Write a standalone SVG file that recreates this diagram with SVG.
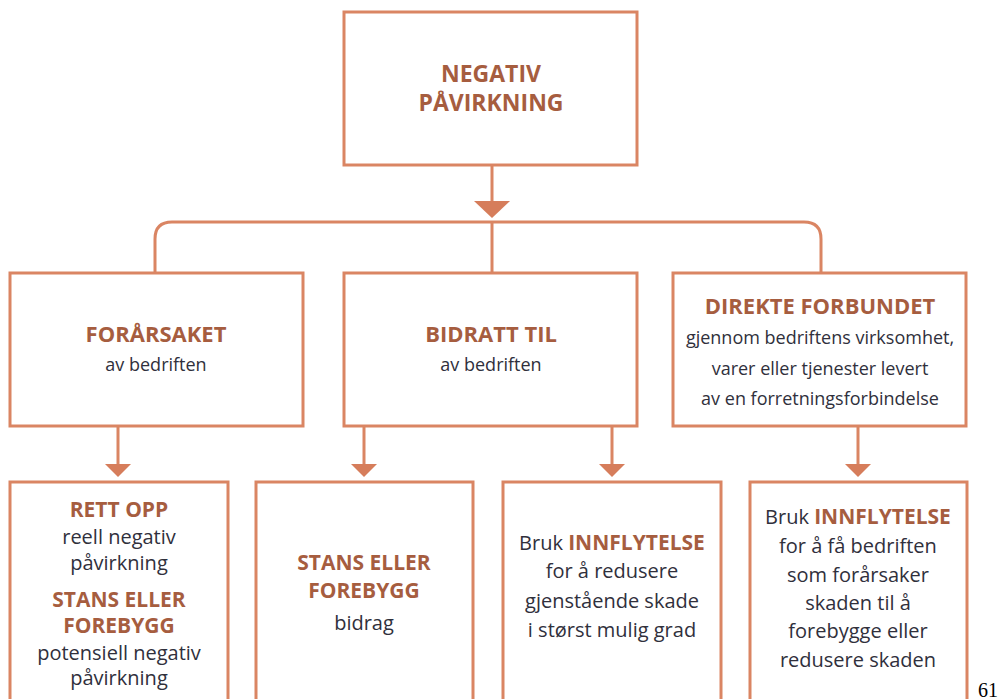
<svg xmlns="http://www.w3.org/2000/svg" width="1002" height="699" viewBox="0 0 1002 699">
<style>
.box{fill:#fff;stroke:#da8563;stroke-width:3}
.ln{fill:none;stroke:#da8563;stroke-width:3}
.ah{fill:#d67d5b}
text{font-family:"Open Sans","Noto Sans",sans-serif;text-anchor:middle}
.b{font-weight:bold;fill:#a65d3f}
.r{fill:#30303c}
.t{font-size:23px}
.m{font-size:22px}
.s{font-size:21px}
.rm{font-size:18px}
.rs{font-size:20px}
.bs{font-size:21px}
</style>
<rect width="1002" height="699" fill="#fff"/>
<g id="connectors">
<line class="ln" x1="492" y1="165" x2="492" y2="203"/>
<polygon class="ah" points="474,201 510,201 492,218"/>
<path class="ln" d="M155,273 V239 Q155,222 172,222 H804 Q821,222 821,239 V273"/>
<line class="ln" x1="492" y1="222" x2="492" y2="273"/>
<line class="ln" x1="118" y1="426" x2="118" y2="466"/>
<polygon class="ah" points="105,464 131,464 118,477"/>
<line class="ln" x1="364" y1="426" x2="364" y2="466"/>
<polygon class="ah" points="351,464 377,464 364,477"/>
<line class="ln" x1="612" y1="426" x2="612" y2="466"/>
<polygon class="ah" points="599,464 625,464 612,477"/>
<line class="ln" x1="858" y1="426" x2="858" y2="466"/>
<polygon class="ah" points="845,464 871,464 858,477"/>
</g>
<g id="negativ">
<rect class="box" x="344" y="12" width="293" height="153"/>
<text class="b t" x="491" y="82">NEGATIV</text>
<text class="b t" x="491" y="111">PÅVIRKNING</text>
</g>
<g id="forarsaket">
<rect class="box" x="10" y="273" width="293" height="153"/>
<text class="b m" x="156" y="342">FORÅRSAKET</text>
<text class="r rm" x="156" y="371">av bedriften</text>
</g>
<g id="bidratt">
<rect class="box" x="344" y="273" width="293" height="153"/>
<text class="b m" x="491" y="342">BIDRATT TIL</text>
<text class="r rm" x="491" y="371">av bedriften</text>
</g>
<g id="direkte">
<rect class="box" x="673" y="273" width="293" height="153"/>
<text class="b m" x="820" y="314">DIREKTE FORBUNDET</text>
<text class="r rm" x="820" y="344">gjennom bedriftens virksomhet,</text>
<text class="r rm" x="820" y="375">varer eller tjenester levert</text>
<text class="r rm" x="820" y="405">av en forretningsforbindelse</text>
</g>
<g id="rett-opp">
<rect class="box" x="10" y="482" width="218" height="230"/>
<text class="b s" x="119" y="517">RETT OPP</text>
<text class="r rs" x="119" y="544">reell negativ</text>
<text class="r rs" x="119" y="570">påvirkning</text>
<text class="b s" x="119" y="607">STANS ELLER</text>
<text class="b s" x="119" y="633">FOREBYGG</text>
<text class="r rs" x="119" y="660">potensiell negativ</text>
<text class="r rs" x="119" y="685">påvirkning</text>
</g>
<g id="stans">
<rect class="box" x="256" y="482" width="217" height="230"/>
<text class="b s" x="364" y="570">STANS ELLER</text>
<text class="b s" x="364" y="598">FOREBYGG</text>
<text class="r rs" x="364" y="630">bidrag</text>
</g>
<g id="innflytelse-1">
<rect class="box" x="503" y="482" width="218" height="230"/>
<text x="612" y="550"><tspan class="r rs">Bruk </tspan><tspan class="b bs">INNFLYTELSE</tspan></text>
<text class="r rs" x="612" y="578">for å redusere</text>
<text class="r rs" x="612" y="608">gjenstående skade</text>
<text class="r rs" x="612" y="637">i størst mulig grad</text>
</g>
<g id="innflytelse-2">
<rect class="box" x="750" y="482" width="217" height="230"/>
<text x="858" y="524"><tspan class="r rs">Bruk </tspan><tspan class="b bs">INNFLYTELSE</tspan></text>
<text class="r rs" x="858" y="553">for å få bedriften</text>
<text class="r rs" x="858" y="582">som forårsaker</text>
<text class="r rs" x="858" y="610">skaden til å</text>
<text class="r rs" x="858" y="638">forebygge eller</text>
<text class="r rs" x="858" y="667">redusere skaden</text>
</g>
<text x="978" y="697" style="font-family:'Liberation Serif',serif;font-size:20px;fill:#000;text-anchor:start">61</text>
</svg>
